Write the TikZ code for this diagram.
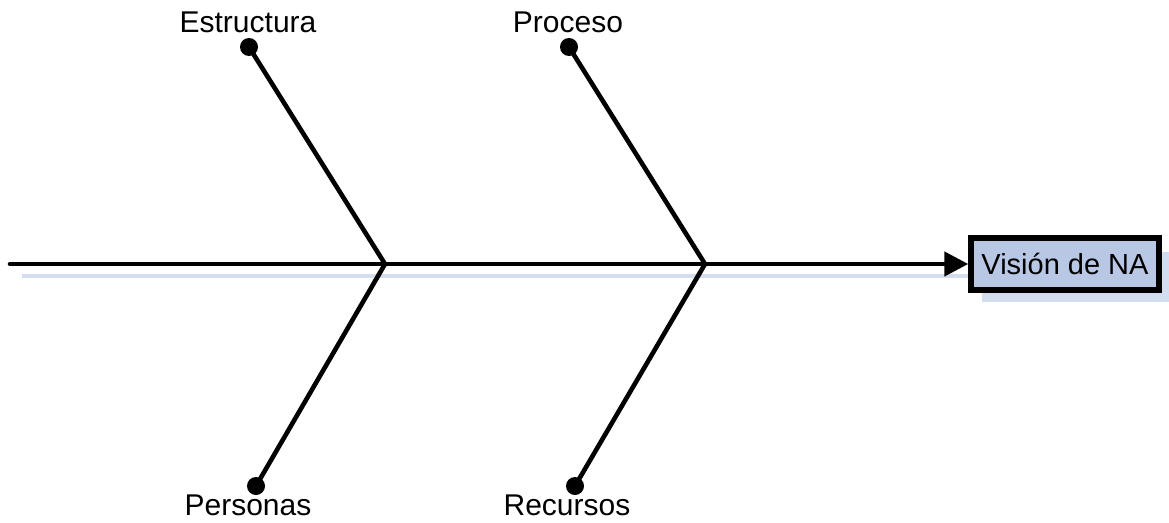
\documentclass[tikz,border=0pt]{standalone}
\usepackage{fontspec}
\setmainfont{Liberation Sans}
\usetikzlibrary{arrows.meta}
\definecolor{boxfill}{HTML}{B8C8E4}
\definecolor{shadowc}{HTML}{D2DDEF}
\tikzset{
  bone/.style={line width=4.6pt, line cap=round},
  dotn/.style={circle, fill=black, inner sep=0pt, minimum size=18pt},
  lab/.style={font=\fontsize{30}{34}\selectfont, inner sep=0pt},
}
\begin{document}
\begin{tikzpicture}[x=1pt,y=-1pt]
\useasboundingbox (0,0) rectangle (1169,522);
% shadows
\fill[shadowc] (982,252) rectangle (1169,302);
\draw[shadowc, line width=4.5pt] (22,276) -- (970,276);
% box
\node[draw=black, fill=boxfill, line width=5.5pt, minimum width=188pt, minimum height=52pt, inner sep=0pt,
      font=\fontsize{29}{34}\selectfont] (vis) at (1065,264) {Visión de NA};
\coordinate (s) at (10,264);
\coordinate (j1) at (385,264);
\coordinate (j2) at (705,264);
\draw[bone] (s) -- (j1) -- (j2);
\draw[line width=4.6pt, -{Triangle[length=24pt,width=24pt]}] (j2) -- (vis.west);
% dots
\node[dotn] (d1) at (249,47) {};
\node[dotn] (d2) at (569,47) {};
\node[dotn] (d3) at (256,486) {};
\node[dotn] (d4) at (575,486) {};
\draw[bone] (d1.center) -- (j1) -- (d3.center);
\draw[bone] (d2.center) -- (j2) -- (d4.center);
% labels
\node[lab] (l1) at (248,22) {Estructura};
\node[lab] (l2) at (568,22) {Proceso};
\node[lab] (l3) at (248,505) {Personas};
\node[lab] (l4) at (567,505) {Recursos};
\end{tikzpicture}
\end{document}
